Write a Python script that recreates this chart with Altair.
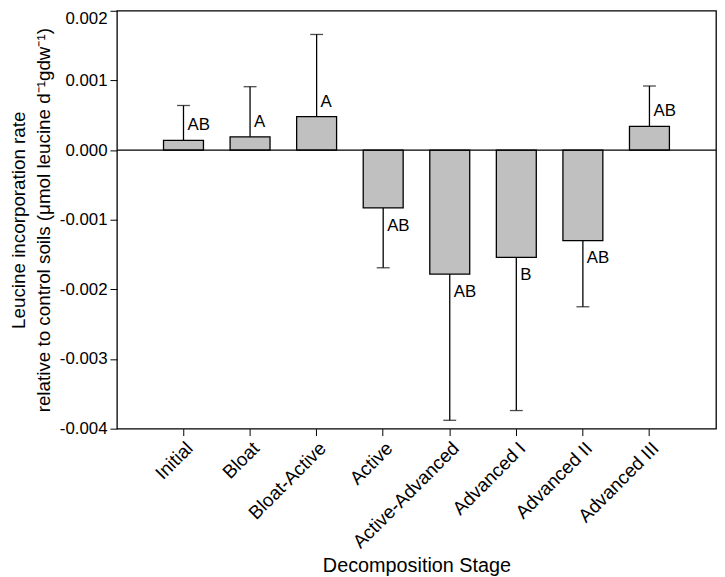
import altair as alt
import pandas as pd

stages = ["Initial", "Bloat", "Bloat-Active", "Active", "Active-Advanced",
          "Advanced I", "Advanced II", "Advanced III"]
means = [0.00014, 0.00019, 0.00048, -0.00083, -0.00178, -0.00154, -0.00130, 0.00034]
errors = [0.00050, 0.00072, 0.00118, 0.00086, 0.00210, 0.00220, 0.00095, 0.00058]
letters = ["AB", "A", "A", "AB", "AB", "B", "AB", "AB"]
y_ticks = [-0.004, -0.003, -0.002, -0.001, 0.0, 0.001, 0.002]

df = pd.DataFrame({"stage": stages, "mean": means, "err": errors, "letter": letters})
df["end"] = [m + e if m >= 0 else m - e for m, e in zip(means, errors)]
df["pos"] = [m >= 0 for m in means]

FONT = "Liberation Sans"

x_enc = alt.X("stage:N", sort=stages,
              scale=alt.Scale(paddingInner=0.4, paddingOuter=0.7),
              axis=alt.Axis(title="Decomposition Stage", labelAngle=-45,
                            labelFontSize=19, titleFontSize=20, titlePadding=4,
                            tickSize=7, labelPadding=3, domain=False))
y_scale = alt.Scale(domain=[-0.004, 0.002], nice=False, zero=False)
y_axis = alt.Axis(values=y_ticks, grid=False, tickSize=7, labelFontSize=17,
                  labelPadding=3, domain=False,
                  labelBaseline={"condition": {"test": "datum.value >= 0.0019", "value": "top"},
                                 "value": "middle"},
                  labelExpr="replace(format(datum.value, '.3f'), '\u2212', '-')",
                  title=["Leucine incorporation rate",
                         "relative to control soils (\u03bcmol leucine d\u207b\u00b9gdw\u207b\u00b9)"],
                  titleFontSize=19, titleFontWeight="normal", titleLineHeight=25,
                  titlePadding=6)

base = alt.Chart(df)

bars = base.mark_bar(color="#c0c0c0", stroke="black", strokeWidth=1.3).encode(
    x=x_enc, y=alt.Y("mean:Q", scale=y_scale, axis=y_axis))

zero = alt.Chart(pd.DataFrame({"z": [0.0]})).mark_rule(color="black", strokeWidth=1.3).encode(
    y=alt.Y("z:Q", scale=y_scale))

err = base.mark_rule(color="black", strokeWidth=1.3).encode(
    x=alt.X("stage:N", sort=stages), y=alt.Y("mean:Q", scale=y_scale), y2="end:Q")

caps = base.mark_tick(color="black", size=13, thickness=1.3, orient="horizontal").encode(
    x=alt.X("stage:N", sort=stages), y=alt.Y("end:Q", scale=y_scale))

txt_pos = base.transform_filter("datum.pos").mark_text(
    align="left", baseline="middle", dx=4, dy=-15, fontSize=17, font=FONT, color="black").encode(
    x=alt.X("stage:N", sort=stages), y=alt.Y("mean:Q", scale=y_scale), text="letter:N")

txt_neg = base.transform_filter("!datum.pos").mark_text(
    align="left", baseline="middle", dx=4, dy=18, fontSize=17, font=FONT, color="black").encode(
    x=alt.X("stage:N", sort=stages), y=alt.Y("mean:Q", scale=y_scale), text="letter:N")

chart = alt.layer(bars, zero, err, caps, txt_pos, txt_neg).properties(
    width=605, height=422,
    autosize=alt.AutoSizeParams(type="none"),
    padding={"left": 110, "top": 0, "right": 1, "bottom": 147},
).configure_view(stroke="black", strokeWidth=1.3).configure_axis(
    labelFont=FONT, titleFont=FONT, labelColor="black", titleColor="black",
    tickColor="black", domainColor="black", titleFontWeight="normal"
)

chart.save("out.html", embed_options={"renderer": "svg", "actions": False})
